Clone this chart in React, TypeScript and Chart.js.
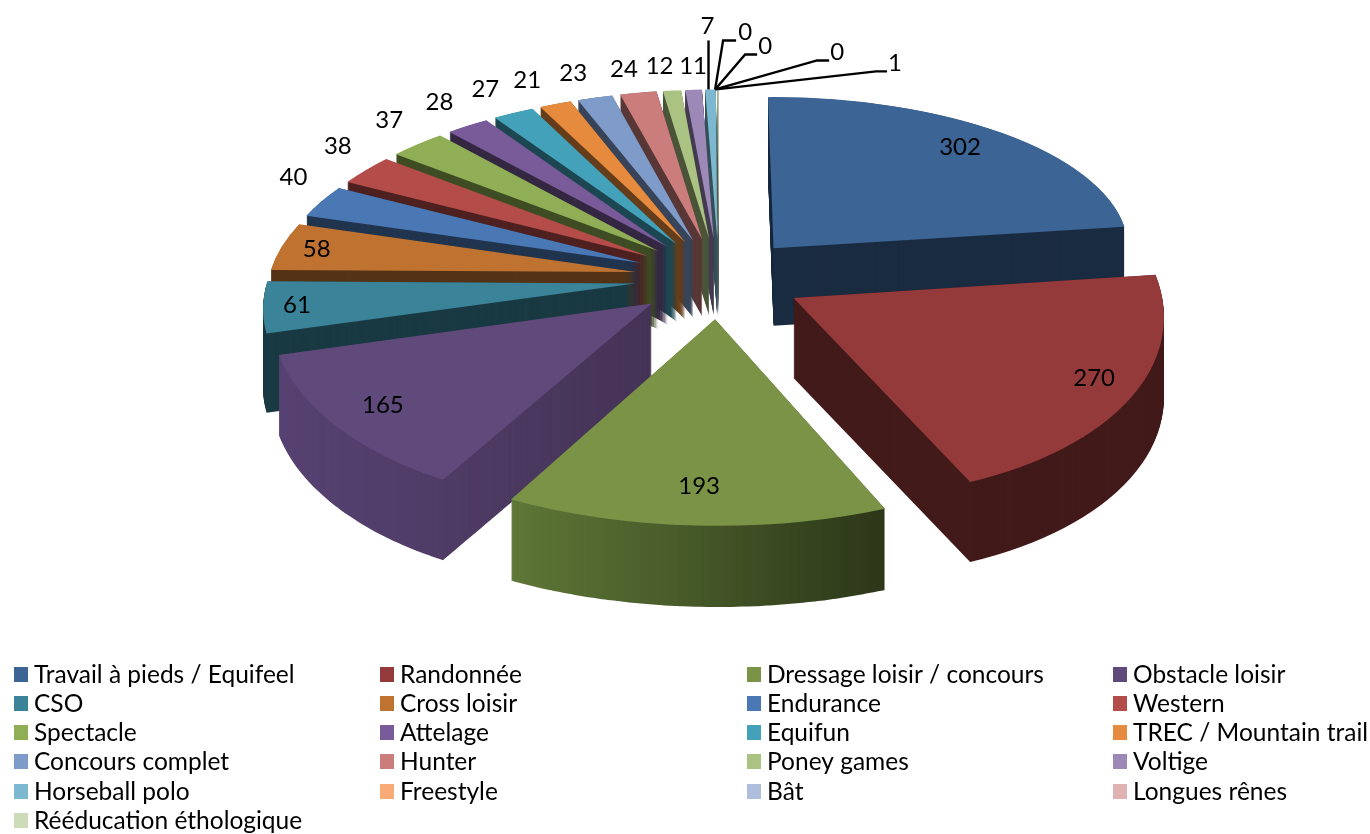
import React, { useEffect, useRef } from "react";
import { Chart, registerables } from "chart.js";

Chart.register(...registerables);

const categories = [
  "Travail à pieds / Equifeel", "Randonnée", "Dressage loisir / concours", "Obstacle loisir",
  "CSO", "Cross loisir", "Endurance", "Western",
  "Spectacle", "Attelage", "Equifun", "TREC / Mountain trail",
  "Concours complet", "Hunter", "Poney games", "Voltige",
  "Horseball polo", "Freestyle", "Bât", "Longues rênes",
  "Rééducation éthologique",
];
const values = [302, 270, 193, 165, 61, 58, 40, 38, 37, 28, 27, 21, 23, 24, 12, 11, 7, 0, 0, 0, 1];
const topColors = [
  "#3C6494", "#953A3A", "#7A9346", "#604A7B", "#3A8399", "#C07331", "#4A78B4",
  "#B44C4A", "#90AE55", "#795B99", "#43A2BA", "#E68A3D", "#7F9BCA", "#CB7D7C",
  "#AAC282", "#9C89B7", "#7CB8CF", "#F9AB77", "#AEBEDC", "#DFB1B0", "#CDDBB8",
];

// View of the tilted, exploded pie
const VIEW = { cx: 719, cy: 278, ax: 367, by: 175, persp: 0.115, explode: 0.23, depth: 79 };
const WALL_SHADE = 0.44;
const wallRamps: Record<number, [string, string]> = {
  2: ["#5F7737", "#2C3719"],
  3: ["#574373", "#463456"],
};
const insideLabelFactor: Record<number, number> = { 0: 0.86, 1: 0.87, 2: 0.82, 3: 0.85, 4: 0.91, 5: 0.9 };
const OUTSIDE_LIFT = 24;
const OUTSIDE_SHIFT = 28;
const outsideNudge: Record<number, number> = { 14: -4, 15: 4 };
const LABEL_FONT = "24px Lato";
const LEGEND_FONT = "24.5px Lato";
const legendColumns = [14, 380, 747, 1113];
const legendRows = [675, 704, 733, 762, 792, 821];
// callout labels: [category index, elbow dx, elbow dy, tail dx, label dx, label dy] from the slice tip
const CALLOUT_SHIFT = -2;
const callouts: number[][] = [
  [16, 0, -49, 0, -1, -63],
  [17, 8, -49, 13, 30, -57],
  [18, 30, -35, 12, 50, -43],
  [19, 102, -29, 12, 122, -37],
  [20, 160, -18, 11, 179, -26],
];

const project = (X: number, Y: number) => {
  const w = 1 - VIEW.persp * Y;
  return { x: VIEW.cx + (VIEW.ax * X) / w, y: VIEW.cy + (VIEW.by * Y) / w, w };
};
const parseHex = (h: string) => [1, 3, 5].map((i) => parseInt(h.slice(i, i + 2), 16));
const shade = (h: string, k: number) => {
  const [r, g, b] = parseHex(h);
  return `rgb(${Math.round(r * k)},${Math.round(g * k)},${Math.round(b * k)})`;
};
const mix = (a: string, b: string, t: number) => {
  const A = parseHex(a), B = parseHex(b);
  return `rgb(${A.map((v, i) => Math.round(v + (B[i] - v) * t)).join(",")})`;
};

const tiltedPie = {
  id: "tiltedPie",
  beforeDatasetsDraw(chart: any) {
    const ctx: CanvasRenderingContext2D = chart.ctx;
    const arcs: any[] = chart.getDatasetMeta(0).data;
    const geo = arcs.map((arc, i) => {
      const s = arc.startAngle, t = arc.endAngle, h = (s + t) / 2;
      const ex = VIEW.explode * Math.cos(h), ey = VIEW.explode * Math.sin(h);
      const p0 = project(ex, ey);
      const p1 = project(ex + Math.cos(s), ey + Math.sin(s));
      const p2 = project(ex + Math.cos(t), ey + Math.sin(t));
      const R = arc.outerRadius;
      const ux = R * Math.cos(s), uy = R * Math.sin(s), vx = R * Math.cos(t), vy = R * Math.sin(t);
      const det = ux * vy - uy * vx;
      const ax = p1.x - p0.x, ay = p1.y - p0.y, bx = p2.x - p0.x, by = p2.y - p0.y;
      const m00 = (ax * vy - bx * uy) / det, m01 = (bx * ux - ax * vx) / det;
      const m10 = (ay * vy - by * uy) / det, m11 = (by * ux - ay * vx) / det;
      const e = p0.x - m00 * arc.x - m01 * arc.y, f = p0.y - m10 * arc.x - m11 * arc.y;
      let minX = p0.x, maxX = p0.x;
      for (let k = 0; k <= 24; k++) {
        const a = s + ((t - s) * k) / 24;
        const q = project(ex + Math.cos(a), ey + Math.sin(a));
        minX = Math.min(minX, q.x); maxX = Math.max(maxX, q.x);
      }
      return { i, arc, h, ex, ey, m: [m00, m10, m01, m11, e, f], depth: VIEW.depth / p0.w, minX, maxX, visible: t - s > 0 };
    });
    const order = geo.filter((g) => g.visible).sort((a, b) => Math.sin(a.h) - Math.sin(b.h));
    const paint = (g: any, color: string, dy: number) => {
      const saved = g.arc.options;
      g.arc.options = { ...saved, backgroundColor: color, borderWidth: 0 };
      ctx.save();
      ctx.transform(g.m[0], g.m[1], g.m[2], g.m[3], g.m[4], g.m[5] + dy);
      g.arc.draw(ctx);
      ctx.restore();
      g.arc.options = saved;
    };
    for (const g of order) {
      const ramp = wallRamps[g.i];
      if (ramp) {
        const step = 6;
        for (let x = Math.floor(g.minX) - 2; x < g.maxX + 2; x += step) {
          const tone = mix(ramp[0], ramp[1], Math.min(1, Math.max(0, (x - g.minX) / (g.maxX - g.minX))));
          ctx.save();
          ctx.beginPath();
          ctx.rect(x, 0, step, chart.height);
          ctx.clip();
          for (let d = g.depth; d > 0; d -= 1) paint(g, tone, d);
          ctx.restore();
        }
      } else {
        const tone = shade(topColors[g.i], WALL_SHADE);
        for (let d = g.depth; d > 0; d -= 1) paint(g, tone, d);
      }
      paint(g, topColors[g.i], 0);
    }

    // value labels
    ctx.save();
    ctx.fillStyle = "#000";
    ctx.font = LABEL_FONT;
    ctx.textAlign = "center";
    ctx.textBaseline = "middle";
    const hidden = new Set(callouts.map((c) => c[0]));
    geo.forEach((g) => {
      if (hidden.has(g.i)) return;
      const inside = insideLabelFactor[g.i];
      const q = project(g.ex + (inside ?? 1) * Math.cos(g.h), g.ey + (inside ?? 1) * Math.sin(g.h));
      const nudge = inside ? 0 : OUTSIDE_SHIFT * Math.min(1, Math.abs(Math.cos(g.h)) * 2.5);
      ctx.fillText(String(values[g.i]), q.x - nudge + (outsideNudge[g.i] ?? 0), q.y - (inside ? 0 : OUTSIDE_LIFT));
    });
    ctx.strokeStyle = "#000";
    ctx.lineWidth = 2.4;
    callouts.forEach(([i, ex, ey, tail, lx, ly]) => {
      const g = geo[i];
      const tip = project(g.ex + Math.cos(g.h), g.ey + Math.sin(g.h));
      const tx = tip.x + CALLOUT_SHIFT;
      ctx.beginPath();
      ctx.moveTo(tx, tip.y);
      ctx.lineTo(tx + ex, tip.y + ey);
      ctx.lineTo(tx + ex + tail, tip.y + ey);
      ctx.stroke();
      ctx.fillText(String(values[i]), tx + lx, tip.y + ly);
    });

    // legend grid
    ctx.font = LEGEND_FONT;
    ctx.textAlign = "left";
    categories.forEach((name, i) => {
      const x = legendColumns[i % 4], y = legendRows[Math.floor(i / 4)];
      ctx.fillStyle = topColors[i];
      ctx.fillRect(x, y - 8, 14, 15);
      ctx.fillStyle = "#000";
      ctx.fillText(name, x + 20, y);
    });
    ctx.restore();
    return false;
  },
};

export default function App() {
  const ref = useRef<HTMLCanvasElement>(null);
  useEffect(() => {
    const chart = new Chart(ref.current!, {
      type: "pie",
      data: {
        labels: categories,
        datasets: [{ data: values, backgroundColor: topColors, borderWidth: 0 }],
      },
      options: {
        responsive: false,
        animation: false,
        plugins: { legend: { display: false }, tooltip: { enabled: false } },
      },
      plugins: [tiltedPie],
    } as any);
    return () => chart.destroy();
  }, []);
  return (
    <canvas
      ref={ref}
      width={1370}
      height={834}
      style={{ position: "fixed", left: 0, top: 0, display: "block" }}
    />
  );
}
